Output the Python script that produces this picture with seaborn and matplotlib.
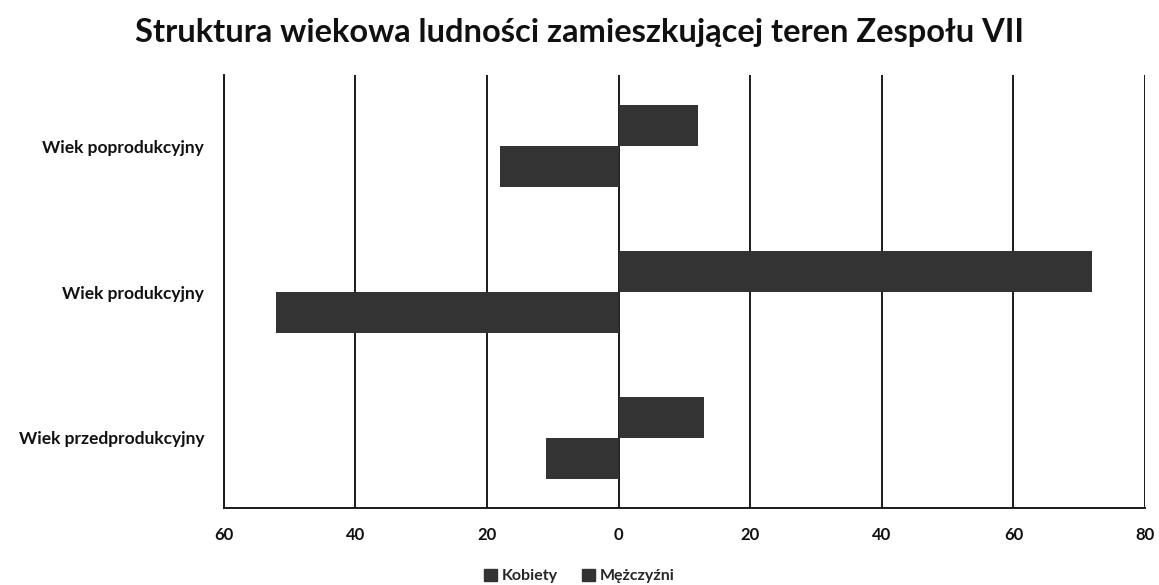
import matplotlib
matplotlib.use("Agg")
import matplotlib.pyplot as plt
from matplotlib.ticker import FuncFormatter, FixedLocator
import seaborn as sns
import pandas as pd

# Age groups and population shares by sex
groups = ["Wiek poprodukcyjny", "Wiek produkcyjny", "Wiek przedprodukcyjny"]
kobiety = [12, 72, 13]
mezczyzni = [18, 52, 11]
series_names = ["Kobiety", "Mężczyźni"]
x_ticks = [-60, -40, -20, 0, 20, 40, 60, 80]

df = pd.DataFrame({
    "grupa": groups * 2,
    "wartosc": kobiety + [-v for v in mezczyzni],
    "plec": [series_names[0]] * 3 + [series_names[1]] * 3,
})

sns.set_style("white")
plt.rcParams["font.family"] = ["Lato", "DejaVu Sans"]

fig = plt.figure(figsize=(11.59, 5.85), dpi=100)
ax = fig.add_axes([0.193, 0.132, 0.795, 0.74])

bar_color = "#333333"
sns.barplot(data=df, y="grupa", x="wartosc", hue="plec", order=groups,
            hue_order=series_names, orient="h", width=0.56, gap=0,
            palette=[bar_color, bar_color], edgecolor="none",
            legend=False, ax=ax, zorder=3)

ax.set_xlim(-60, 80)
ax.set_ylim(2.48, -0.49)
ax.xaxis.set_major_locator(FixedLocator(x_ticks))
ax.xaxis.set_major_formatter(FuncFormatter(lambda v, p: f"{abs(int(v))}"))
ax.grid(axis="x", color="#1a1a1a", linewidth=1.4, zorder=1)
ax.set_axisbelow(False)
for line in ax.get_xgridlines():
    line.set_zorder(1)

for side in ["top", "right"]:
    ax.spines[side].set_visible(False)
for side in ["left", "bottom"]:
    ax.spines[side].set_color("#1a1a1a")
    ax.spines[side].set_linewidth(1.4)

ax.set_xlabel("")
ax.set_ylabel("")
ax.tick_params(axis="x", length=0, pad=14, labelsize=12)
ax.tick_params(axis="y", length=0, pad=14, labelsize=12.5)
for lbl in ax.get_xticklabels() + ax.get_yticklabels():
    lbl.set_fontweight("bold")
    lbl.set_color("#111111")

fig.suptitle("Struktura wiekowa ludności zamieszkującej teren Zespołu VII",
             x=0.5, y=0.97, fontsize=23.5, fontweight="bold", color="#111111")

handles = [plt.Rectangle((0, 0), 1, 1, color=bar_color) for _ in series_names]
fig.legend(handles, series_names, loc="lower center", bbox_to_anchor=(0.5, -0.022),
           ncol=2, frameon=False, handlelength=0.8, handleheight=0.8,
           handletextpad=0.3, columnspacing=1.5,
           prop={"weight": "bold", "size": 11.5})

fig.savefig("out.png", dpi=100, facecolor="white")
